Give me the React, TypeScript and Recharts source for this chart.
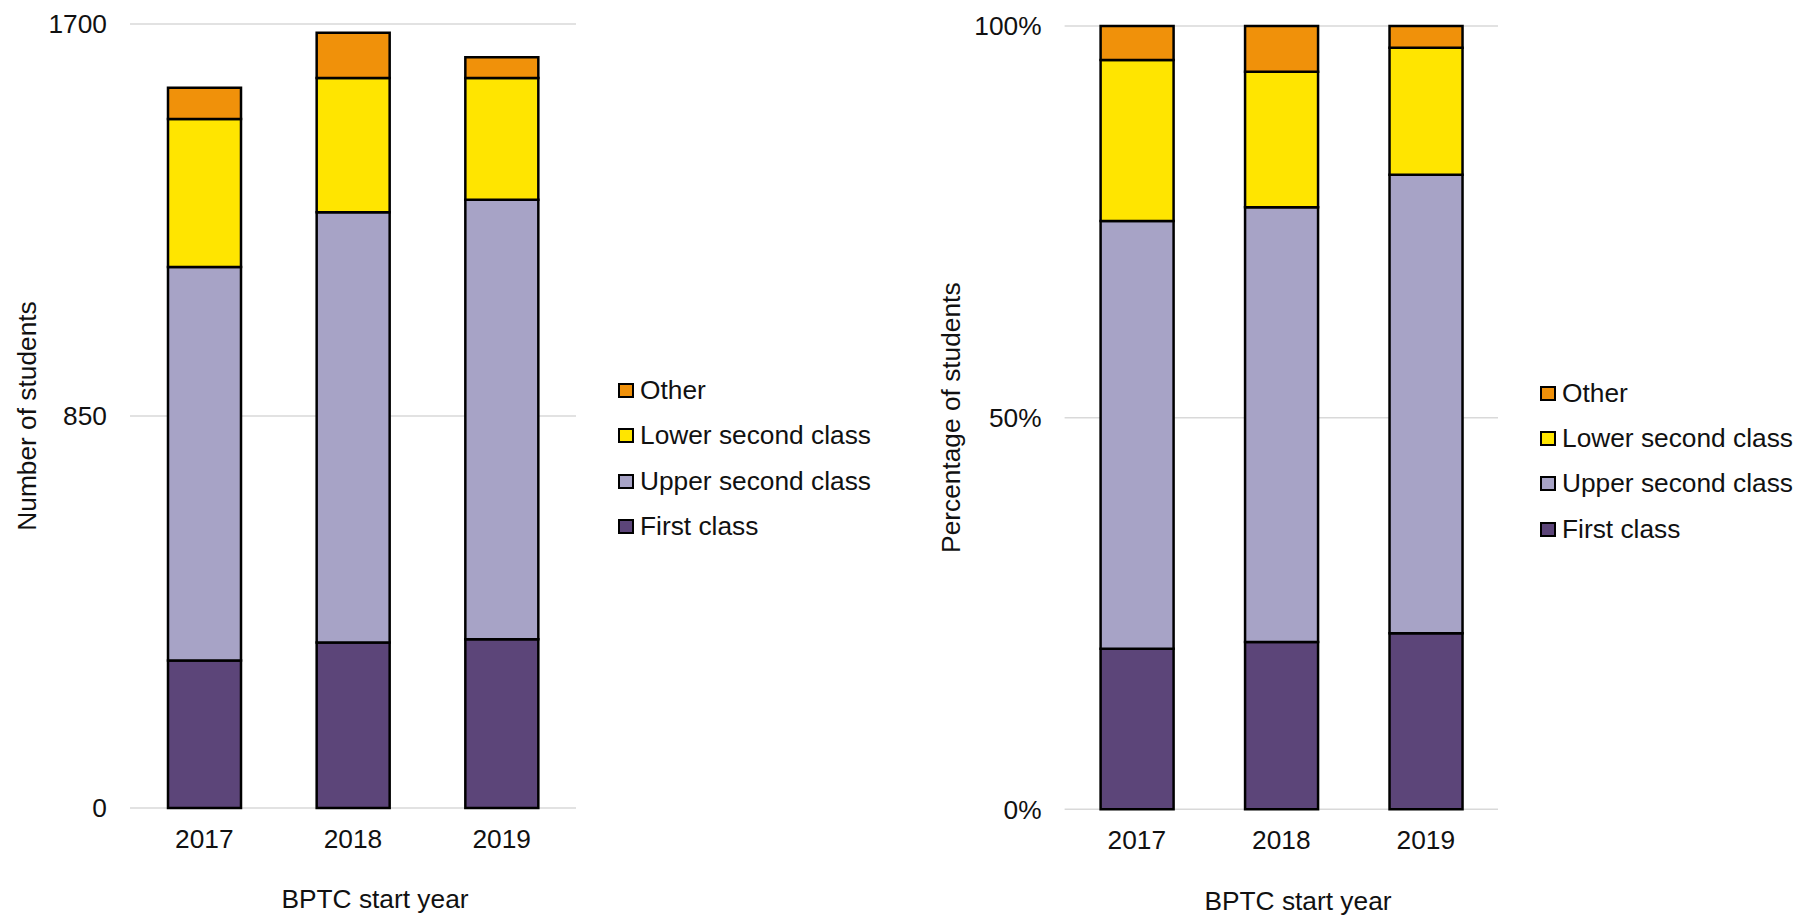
import { BarChart, Bar, XAxis, YAxis, CartesianGrid, Legend, Label } from 'recharts'

const FONT = '"Liberation Sans", Arial, sans-serif'
const TEXT = '#111'

// BPTC start years and degree class counts
const years = ['2017', '2018', '2019']
const firstClass = [320, 359, 366]
const upperSecond = [853, 933, 953]
const lowerSecond = [321, 291, 264]
const other = [68, 98, 45]

const seriesNames = ['First class', 'Upper second class', 'Lower second class', 'Other']
const seriesKeys = ['first', 'upper', 'lower', 'other']
const seriesColors = ['#5C4579', '#A7A3C6', '#FFE500', '#F0910A']

const countTicks = [0, 850, 1700]
const pctTicks = [0, 0.5, 1]

const data = years.map((year, i) => ({
  year,
  first: firstClass[i],
  upper: upperSecond[i],
  lower: lowerSecond[i],
  other: other[i],
}))

function LegendBox() {
  // legend lists the stack top-down
  const order = [3, 2, 1, 0]
  return (
    <div style={{ fontFamily: FONT }}>
      {order.map((i) => (
        <div
          key={seriesNames[i]}
          style={{ display: 'flex', alignItems: 'center', height: 45.3 }}
        >
          <span
            style={{
              width: 16,
              height: 15,
              boxSizing: 'border-box',
              border: '2px solid #000',
              background: seriesColors[i],
              marginRight: 6,
              display: 'inline-block',
            }}
          />
          <span style={{ fontSize: 26.3, color: TEXT, whiteSpace: 'nowrap' }}>
            {seriesNames[i]}
          </span>
        </div>
      ))}
    </div>
  )
}

function Panel({
  percent,
  width,
  margin,
  yWidth,
  xHeight,
  yTitle,
  yTitleX,
  xTitleDx,
  xTitleDy,
  legendPos,
}: {
  percent: boolean
  width: number
  margin: { top: number; right: number; left: number; bottom: number }
  yWidth: number
  xHeight: number
  yTitle: string
  yTitleX: number
  xTitleDx: number
  xTitleDy: number
  legendPos: { left: number; top: number }
}) {
  return (
    <BarChart
      width={width}
      height={916}
      data={data}
      margin={margin}
      stackOffset={percent ? 'expand' : 'none'}
      barSize={73}
      style={{ fontFamily: FONT }}
    >
      <CartesianGrid vertical={false} stroke="#d9d9d9" strokeWidth={1.5} />
      <XAxis
        dataKey="year"
        axisLine={false}
        tickLine={false}
        tickSize={0}
        tickMargin={21.5}
        height={xHeight}
        tick={{ fontSize: 26.3, fill: TEXT, fontFamily: FONT }}
      >
        <Label
          content={({ viewBox }: any) => (
            <text
              x={viewBox.x + viewBox.width / 2 + xTitleDx}
              y={viewBox.y + xTitleDy}
              textAnchor="middle"
              fontSize={26.3}
              fill={TEXT}
              fontFamily={FONT}
            >
              BPTC start year
            </text>
          )}
        />
      </XAxis>
      <YAxis
        width={yWidth}
        domain={percent ? [0, 1] : [0, 1700]}
        ticks={percent ? pctTicks : countTicks}
        interval={0}
        axisLine={false}
        tickLine={false}
        tickSize={0}
        tickMargin={23}
        tick={{ fontSize: 26.3, fill: TEXT, fontFamily: FONT }}
        tickFormatter={(v: number) => (percent ? `${Math.round(v * 100)}%` : `${v}`)}
      >
        <Label
          content={({ viewBox }: any) => {
            const cy = viewBox.y + viewBox.height / 2
            return (
              <text
                x={yTitleX}
                y={cy}
                transform={`rotate(-90, ${yTitleX}, ${cy})`}
                textAnchor="middle"
                dominantBaseline="central"
                fontSize={26.3}
                fill={TEXT}
                fontFamily={FONT}
              >
                {yTitle}
              </text>
            )
          }}
        />
      </YAxis>
      <Legend
        layout="vertical"
        align="center"
        verticalAlign="middle"
        content={() => <LegendBox />}
        wrapperStyle={{ left: legendPos.left, top: legendPos.top, width: 'auto', height: 'auto' }}
      />
      {seriesKeys.map((key, i) => (
        <Bar
          key={key}
          dataKey={key}
          name={seriesNames[i]}
          stackId="a"
          fill={seriesColors[i]}
          stroke="#000"
          strokeWidth={2.5}
          isAnimationActive={false}
        />
      ))}
    </BarChart>
  )
}

export default function App() {
  return (
    <div
      style={{
        position: 'absolute',
        left: 0,
        top: 0,
        width: 1805,
        height: 916,
        background: '#fff',
        overflow: 'hidden',
      }}
    >
      <div style={{ position: 'absolute', left: 0, top: 0 }}>
        <Panel
          percent={false}
          width={900}
          margin={{ top: 24, right: 324, left: 0, bottom: 0 }}
          yWidth={130}
          xHeight={108}
          yTitle="Number of students"
          yTitleX={27}
          xTitleDx={22}
          xTitleDy={100.3}
          legendPos={{ left: 618, top: 368 }}
        />
      </div>
      <div style={{ position: 'absolute', left: 900, top: 0 }}>
        <Panel
          percent={true}
          width={905}
          margin={{ top: 26, right: 307, left: 0, bottom: 0 }}
          yWidth={164.6}
          xHeight={106.7}
          yTitle="Percentage of students"
          yTitleX={51}
          xTitleDx={16.7}
          xTitleDy={100.5}
          legendPos={{ left: 640, top: 370.7 }}
        />
      </div>
    </div>
  )
}
